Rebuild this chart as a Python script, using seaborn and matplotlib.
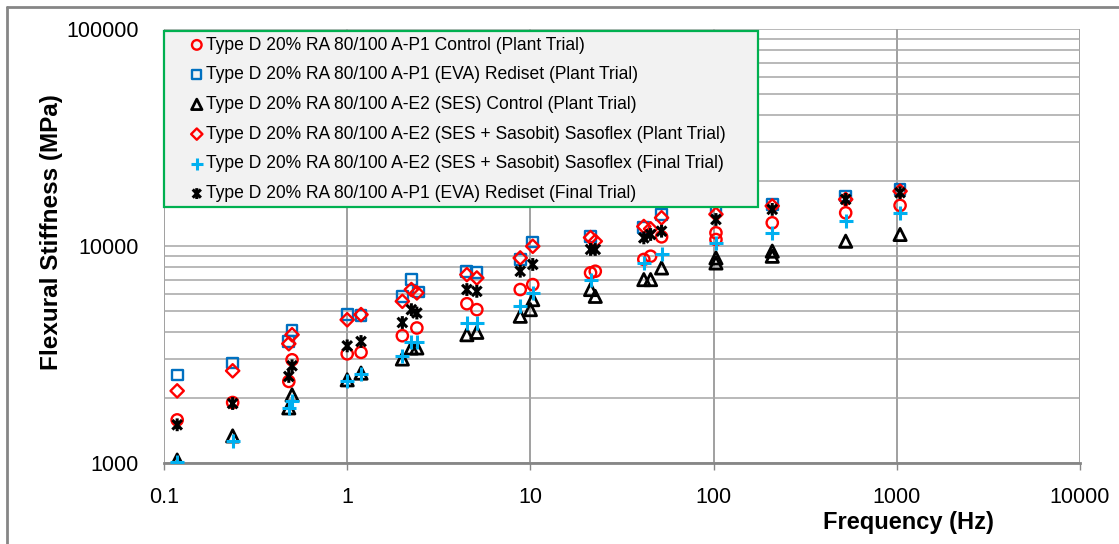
import numpy as np
import pandas as pd
import matplotlib
matplotlib.use("Agg")
import matplotlib.pyplot as plt
from matplotlib.path import Path
from matplotlib.lines import Line2D
from matplotlib.patches import Rectangle
from matplotlib.ticker import FixedLocator, NullFormatter
import seaborn as sns

# ---------------- data ----------------
labels = [
    "Type D 20% RA 80/100 A-P1 Control (Plant Trial)",
    "Type D 20% RA 80/100 A-P1 (EVA) Rediset (Plant Trial)",
    "Type D 20% RA 80/100 A-E2 (SES) Control (Plant Trial)",
    "Type D 20% RA 80/100 A-E2 (SES + Sasobit) Sasoflex (Plant Trial)",
    "Type D 20% RA 80/100 A-E2 (SES + Sasobit) Sasoflex (Final Trial)",
    "Type D 20% RA 80/100 A-P1 (EVA) Rediset (Final Trial)",
]

freq_control_plant = [0.118, 0.237, 0.48, 0.50, 1.0, 1.19, 2.0, 2.4, 4.5, 5.1, 8.8, 10.3,
                      21.3, 22.6, 41.6, 45.3, 52, 103, 103, 209, 526, 1042]
stiff_control_plant = [1580, 1900, 2377, 2990, 3185, 3235, 3860, 4190, 5420, 5090, 6300, 6640,
                       7520, 7650, 8670, 8970, 11020, 11500, 10710, 12790, 14220, 15380]

freq_rediset_plant = [0.118, 0.237, 0.48, 0.50, 1.0, 1.19, 2.0, 2.24, 2.45, 4.5, 5.1, 8.8, 10.3,
                      21.3, 41.6, 52, 103, 209, 526, 1042]
stiff_rediset_plant = [2545, 2890, 3630, 4080, 4830, 4800, 5860, 7000, 6140, 7650, 7520, 8660, 10430,
                       11090, 12130, 13990, 14500, 15570, 16980, 18240]

freq_ses_control_plant = [0.118, 0.237, 0.48, 0.50, 1.0, 1.19, 2.0, 2.24, 2.4, 4.5, 5.1, 8.8, 10.0, 10.3,
                          21.3, 22.6, 41.6, 45.3, 52, 103, 103, 209, 209, 526, 1042]
stiff_ses_control_plant = [1032, 1333, 1795, 2060, 2417, 2596, 3015, 3390, 3390, 3900, 4000, 4745, 5090, 5660,
                           6300, 5860, 7000, 7000, 7920, 8810, 8350, 9470, 8970, 10520, 11300]

freq_sasoflex_plant = [0.118, 0.237, 0.48, 0.50, 1.0, 1.19, 2.0, 2.24, 2.4, 4.5, 5.1, 8.8, 10.3,
                       21.3, 22.6, 41.6, 45.3, 52, 103, 209, 526, 1042]
stiff_sasoflex_plant = [2150, 2660, 3545, 3900, 4570, 4830, 5560, 6300, 6080, 7380, 7120, 8810, 9970,
                        10940, 10520, 12300, 12000, 13490, 14000, 15300, 16400, 17900]

freq_sasoflex_final = [0.118, 0.237, 0.48, 0.50, 1.0, 1.19, 2.0, 2.24, 2.4, 4.5, 5.1, 8.8, 10.3,
                       21.3, 41.6, 52, 103, 209, 526, 1042]
stiff_sasoflex_final = [1014, 1267, 1795, 1940, 2390, 2570, 3120, 3630, 3595, 4420, 4420, 5310, 6090,
                        7000, 8350, 9230, 10350, 11500, 13040, 14220]

freq_rediset_final = [0.118, 0.237, 0.48, 0.50, 1.0, 1.19, 2.0, 2.24, 2.4, 4.5, 5.1, 8.8, 10.3,
                      21.3, 22.6, 41.6, 45.3, 52, 103, 209, 526, 1042]
stiff_rediset_final = [1500, 1880, 2505, 2806, 3465, 3630, 4440, 5090, 4910, 6300, 6180, 7650, 8220,
                       9640, 9640, 10900, 11300, 11700, 13250, 14750, 16400, 17600]

x_ticks = [0.1, 1, 10, 100, 1000, 10000]
x_tick_labels = ["0.1", "1", "10", "100", "1000", "10000"]
y_ticks = [1000, 10000, 100000]
y_tick_labels = ["1000", "10000", "100000"]

series_data = [
    (freq_control_plant, stiff_control_plant),
    (freq_rediset_plant, stiff_rediset_plant),
    (freq_ses_control_plant, stiff_ses_control_plant),
    (freq_sasoflex_plant, stiff_sasoflex_plant),
    (freq_sasoflex_final, stiff_sasoflex_final),
    (freq_rediset_final, stiff_rediset_final),
]
frames = []
for lab, (f, s) in zip(labels, series_data):
    frames.append(pd.DataFrame({"Frequency": f, "Stiffness": s, "Series": lab}))
df = pd.concat(frames, ignore_index=True)

# ---------------- style ----------------
sns.set_theme(style="white")
plt.rcParams["font.family"] = ["Liberation Sans", "DejaVu Sans"]

asterisk = Path(
    [(0, -1), (0, 1), (-0.75, -0.75), (0.75, 0.75), (-0.75, 0.75), (0.75, -0.75)],
    [Path.MOVETO, Path.LINETO, Path.MOVETO, Path.LINETO, Path.MOVETO, Path.LINETO],
)

styles = {
    labels[0]: dict(marker="o", color="#ff0000", open=True, s=66, lw=1.7),
    labels[1]: dict(marker="s", color="#0070c0", open=True, s=60, lw=1.7),
    labels[2]: dict(marker="^", color="#000000", open=True, s=78, lw=2.0),
    labels[3]: dict(marker="D", color="#ff0000", open=True, s=46, lw=1.7),
    labels[4]: dict(marker="+", color="#00b0f0", open=False, s=95, lw=2.2),
    labels[5]: dict(marker=asterisk, color="#000000", open=True, s=85, lw=2.2),
}

W, H = 1119, 544
fig = plt.figure(figsize=(W / 100, H / 100), dpi=100)
ax = fig.add_axes([164 / W, 1 - 463 / H, (1080 - 164) / W, (463 - 29) / H])

for lab in labels:
    st = styles[lab]
    sub = df[df["Series"] == lab]
    if st["open"]:
        sns.scatterplot(data=sub, x="Frequency", y="Stiffness", ax=ax, marker=st["marker"],
                        s=st["s"], facecolor="none", edgecolor=st["color"],
                        linewidth=st["lw"], label=lab, zorder=3)
    else:
        sns.scatterplot(data=sub, x="Frequency", y="Stiffness", ax=ax, marker=st["marker"],
                        s=st["s"], color=st["color"], linewidth=st["lw"], label=lab, zorder=3)

ax.set_xscale("log")
ax.set_yscale("log")
ax.set_xlim(0.1, 10000)
ax.set_ylim(1000, 100000)

ax.xaxis.set_major_locator(FixedLocator(x_ticks))
ax.set_xticklabels(x_tick_labels)
ax.xaxis.set_minor_locator(FixedLocator([]))
ax.yaxis.set_major_locator(FixedLocator(y_ticks))
ax.set_yticklabels(y_tick_labels)
ax.yaxis.set_minor_locator(FixedLocator([m * d for d in (1000, 10000) for m in range(2, 10)]))
ax.yaxis.set_minor_formatter(NullFormatter())

ax.grid(True, axis="x", which="major", color="#868686", linewidth=1.1)
ax.grid(True, axis="y", which="both", color="#a6a6a6", linewidth=1.1)
ax.set_axisbelow(True)

for side in ("left", "right", "top"):
    ax.spines[side].set_visible(False)
ax.spines["bottom"].set_color("#868686")
ax.spines["bottom"].set_linewidth(2.0)

ax.tick_params(axis="x", which="major", length=5, width=1, color="#868686",
               labelsize=15.5, pad=12, bottom=True, labelcolor="#000000")
ax.tick_params(axis="y", which="both", length=0, labelsize=15.5, pad=18, labelcolor="#000000")

ax.set_xlabel("Frequency (Hz)", fontsize=17, fontweight="bold", color="#000000")
ax.xaxis.set_label_coords((908 - 164) / (1080 - 164), -(522 - 463) / (463 - 29))
ax.xaxis.label.set_va("center")
ax.set_ylabel("Flexural Stiffness (MPa)", fontsize=17.5, fontweight="bold", color="#000000")
ax.yaxis.set_label_coords(-(164 - 52) / (1080 - 164), (463 - 232) / (463 - 29))
ax.yaxis.label.set_va("center")

# legend background box (drawn separately to control its exact extent)
box = Rectangle((164 / W, 1 - 207 / H), (758 - 164) / W, (207 - 31) / H,
                transform=fig.transFigure, facecolor="#f2f2f2", edgecolor="#00b050",
                linewidth=1.6, zorder=4, clip_on=False)
ax.add_patch(box)

leg = ax.legend(loc="upper left", bbox_to_anchor=(188 / W, 1 - 36.5 / H),
                bbox_transform=fig.transFigure, borderaxespad=0, borderpad=0,
                fontsize=12.65, frameon=False, handlelength=1.0, handletextpad=0.05,
                labelspacing=0.725, markerscale=0.85)
leg.set_zorder(6)
for txt in leg.get_texts():
    txt.set_color("#000000")

# outer chart border (left and top visible)
fig.add_artist(Line2D([7 / W, 1], [1 - 7 / H, 1 - 7 / H], transform=fig.transFigure,
                      color="#868686", linewidth=2))
fig.add_artist(Line2D([7 / W, 7 / W], [0, 1 - 7 / H], transform=fig.transFigure,
                      color="#868686", linewidth=2))

fig.savefig("out.png", dpi=100, facecolor="white")
